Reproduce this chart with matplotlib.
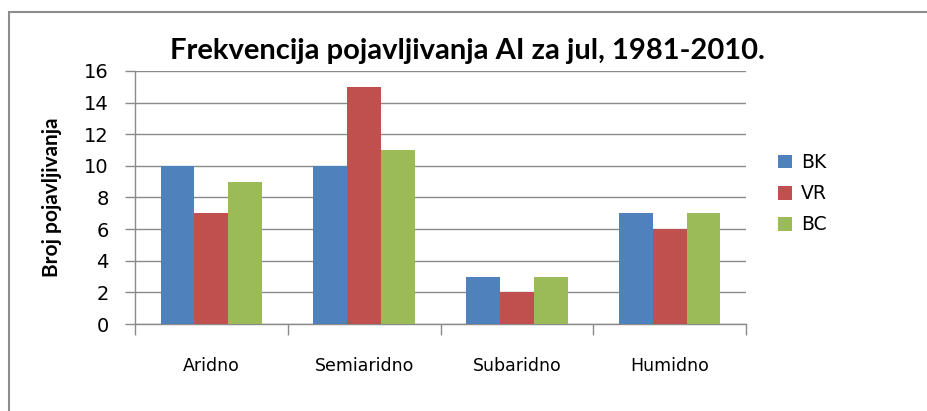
import matplotlib.pyplot as plt
import numpy as np
from matplotlib.patches import Rectangle

categories = ["Aridno", "Semiaridno", "Subaridno", "Humidno"]
series_names = ["BK", "VR", "BC"]
bk = [10, 10, 3, 7]
vr = [7, 15, 2, 6]
bc = [9, 11, 3, 7]
colors = ["#4F81BD", "#C0504D", "#9BBB59"]

fig = plt.figure(figsize=(9.28, 4.11), dpi=100)
ax = fig.add_axes([135 / 928, 1 - 324 / 411, (746 - 135) / 928, (324 - 71) / 411])

# chart border like the excel frame
fig.patches.append(Rectangle((9 / 928, -0.1), 1.2, 1 - 12 / 411 + 0.1,
                             transform=fig.transFigure, fill=False,
                             edgecolor="#8c8c8c", linewidth=1.5))

x = np.arange(len(categories))
w = 0.222
for i, (vals, name) in enumerate(zip([bk, vr, bc], series_names)):
    ax.bar(x + (i - 1) * w, vals, width=w, color=colors[i], label=name, zorder=3)

ax.set_xlim(-0.5, len(categories) - 0.5)
ax.set_ylim(0, 16)
ax.set_yticks(range(0, 17, 2))
ax.yaxis.grid(True, color="#8a8a8a", linewidth=1)
ax.set_axisbelow(True)

ax.set_xticks(np.arange(-0.5, len(categories), 1))
ax.set_xticklabels([])
ax.set_xticks(x, minor=True)
ax.set_xticklabels(categories, minor=True, fontsize=12.5, family="DejaVu Sans")
ax.tick_params(axis="x", which="minor", length=0, pad=24)
ax.tick_params(axis="x", which="major", length=8, color="#8a8a8a", width=1)
ax.tick_params(axis="y", length=7, color="#8a8a8a", width=1, labelsize=14, pad=12)

for s in ["top", "right"]:
    ax.spines[s].set_visible(False)
for s in ["left", "bottom"]:
    ax.spines[s].set_color("#8a8a8a")
    ax.spines[s].set_linewidth(1)

ax.set_ylabel("Broj pojavljivanja", fontsize=15, fontweight="bold", family="Lato", labelpad=16)
fig.text(467 / 928, 1 - 51 / 411, "Frekvencija pojavljivanja AI za jul, 1981-2010.",
         ha="center", va="center", fontsize=21, fontweight="bold", family="Lato")

ax.legend(loc="center left", bbox_to_anchor=(1.025, 0.515), frameon=False,
          fontsize=13.5, handlelength=0.75, handleheight=0.75, handletextpad=0.45,
          labelspacing=0.65)

fig.savefig("out.png", dpi=100)
